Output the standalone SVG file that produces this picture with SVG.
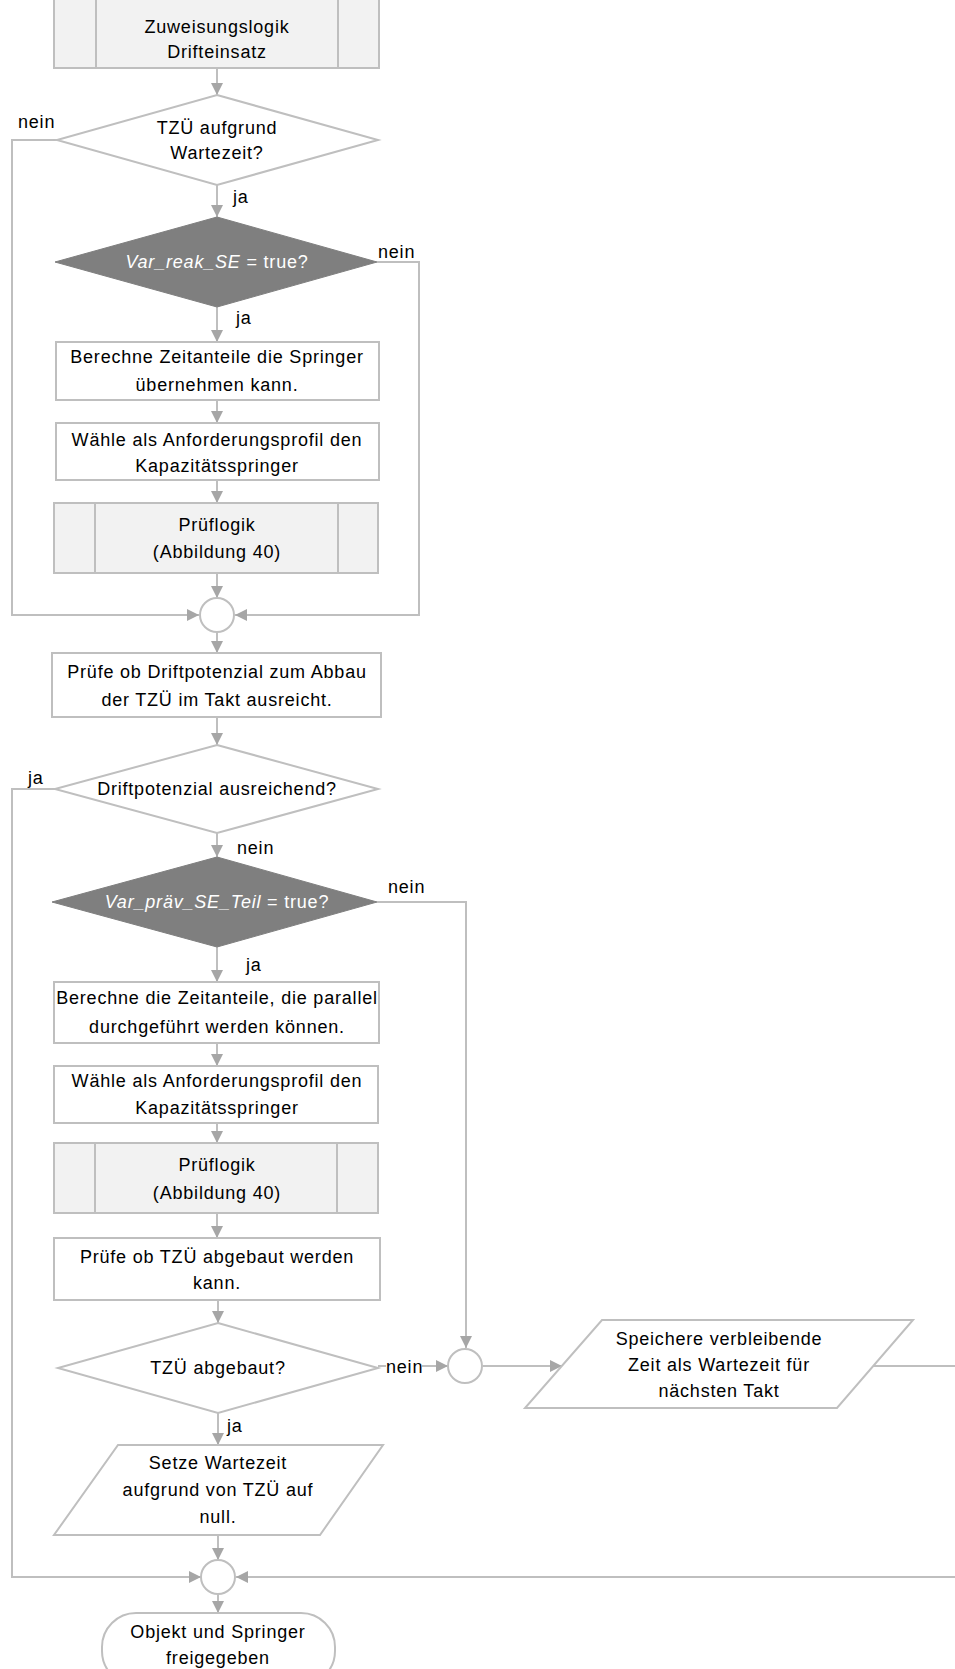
<svg xmlns="http://www.w3.org/2000/svg" width="955" height="1669" viewBox="0 0 955 1669">
<style>
text{font-family:"Liberation Sans",Arial,sans-serif;font-size:18px;letter-spacing:0.8px;fill:#000;text-anchor:middle}
text.lbl{text-anchor:start}
text.w{fill:#fff}
.it{font-style:italic}
.box{fill:#fff;stroke:#bfbfbf;stroke-width:2}
.sub{fill:#f2f2f2;stroke:#bfbfbf;stroke-width:2}
.dark{fill:#7f7f7f;stroke:#7f7f7f;stroke-width:1}
.ln{fill:none;stroke:#bfbfbf;stroke-width:2}
.arr{fill:none;stroke:#bfbfbf;stroke-width:2;marker-end:url(#ah)}
</style>
<defs>
<marker id="ah" markerUnits="userSpaceOnUse" markerWidth="13" markerHeight="12" refX="12" refY="6" orient="auto">
<path d="M0,0 L12,6 L0,12 z" fill="#a6a6a6"/>
</marker>
</defs>
<rect width="955" height="1669" fill="#fff"/>
<g id="connectors">
<line class="arr" x1="217" y1="68" x2="217" y2="95"/>
<line class="arr" x1="217" y1="185" x2="217" y2="217"/>
<line class="arr" x1="217" y1="307" x2="217" y2="342"/>
<line class="arr" x1="217" y1="400" x2="217" y2="423"/>
<line class="arr" x1="217" y1="480" x2="217" y2="503"/>
<line class="arr" x1="217" y1="573" x2="217" y2="598"/>
<polyline class="arr" points="57,140 12,140 12,615 199,615"/>
<polyline class="arr" points="377,262 419,262 419,615 235,615"/>
<line class="arr" x1="217" y1="632" x2="217" y2="653"/>
<line class="arr" x1="217" y1="717" x2="217" y2="745"/>
<line class="arr" x1="217" y1="833" x2="217" y2="857"/>
<line class="arr" x1="217" y1="947" x2="217" y2="982"/>
<line class="arr" x1="217" y1="1043" x2="217" y2="1066"/>
<line class="arr" x1="217" y1="1123" x2="217" y2="1143"/>
<line class="arr" x1="217" y1="1213" x2="217" y2="1238"/>
<line class="arr" x1="218" y1="1300" x2="218" y2="1323"/>
<polyline class="arr" points="377,902 466,902 466,1348"/>
<line class="arr" x1="378" y1="1366" x2="448" y2="1366"/>
<line class="arr" x1="483" y1="1366" x2="562" y2="1366"/>
<line class="ln" x1="873" y1="1366" x2="960" y2="1366"/>
<line class="arr" x1="218" y1="1413" x2="218" y2="1445"/>
<line class="arr" x1="218" y1="1535" x2="218" y2="1560"/>
<polyline class="arr" points="55,789 12,789 12,1577 201,1577"/>
<line class="arr" x1="960" y1="1577" x2="236" y2="1577"/>
<line class="arr" x1="218" y1="1594" x2="218" y2="1613"/>
</g>
<g id="sub1">
<rect class="sub" x="54" y="-5" width="325" height="73"/>
<line class="ln" x1="96" y1="-5" x2="96" y2="68"/>
<line class="ln" x1="338" y1="-5" x2="338" y2="68"/>
<text x="217" y="33">Zuweisungslogik</text>
<text x="217" y="58">Drifteinsatz</text>
</g>
<g id="dec1">
<polygon class="box" points="217,95 378,140 217,185 57,140"/>
<text x="217" y="134">TZÜ aufgrund</text>
<text x="217" y="159">Wartezeit?</text>
<text class="lbl" x="18" y="128">nein</text>
<text class="lbl" x="233" y="203">ja</text>
</g>
<g id="dec2">
<polygon class="dark" points="217,217 377,262 217,307 55,262"/>
<text class="w" x="217" y="268"><tspan class="it">Var_reak_SE</tspan> = true?</text>
<text class="lbl" x="378" y="258">nein</text>
<text class="lbl" x="236" y="324">ja</text>
</g>
<g id="box1">
<rect class="box" x="56" y="342" width="323" height="58"/>
<text x="217" y="363">Berechne Zeitanteile die Springer</text>
<text x="217" y="391">übernehmen kann.</text>
</g>
<g id="box2">
<rect class="box" x="56" y="423" width="323" height="57"/>
<text x="217" y="446">Wähle als Anforderungsprofil den</text>
<text x="217" y="472">Kapazitätsspringer</text>
</g>
<g id="sub2">
<rect class="sub" x="54" y="503" width="324" height="70"/>
<line class="ln" x1="95" y1="503" x2="95" y2="573"/>
<line class="ln" x1="338" y1="503" x2="338" y2="573"/>
<text x="217" y="531">Prüflogik</text>
<text x="217" y="558">(Abbildung 40)</text>
</g>
<g id="merge1">
<circle class="box" cx="217" cy="615" r="17"/>
</g>
<g id="box3">
<rect class="box" x="52" y="653" width="329" height="64"/>
<text x="217" y="678">Prüfe ob Driftpotenzial zum Abbau</text>
<text x="217" y="706">der TZÜ im Takt ausreicht.</text>
</g>
<g id="dec3">
<polygon class="box" points="217,745 378,789 217,833 55,789"/>
<text x="217" y="795">Driftpotenzial ausreichend?</text>
<text class="lbl" x="28" y="784">ja</text>
<text class="lbl" x="237" y="854">nein</text>
</g>
<g id="dec4">
<polygon class="dark" points="217,857 377,902 217,947 52,902"/>
<text class="w" x="217" y="908"><tspan class="it">Var_präv_SE_Teil</tspan> = true?</text>
<text class="lbl" x="388" y="893">nein</text>
<text class="lbl" x="246" y="971">ja</text>
</g>
<g id="box4">
<rect class="box" x="54" y="982" width="325" height="61"/>
<text x="217" y="1004">Berechne die Zeitanteile, die parallel</text>
<text x="217" y="1033">durchgeführt werden können.</text>
</g>
<g id="box5">
<rect class="box" x="54" y="1066" width="324" height="57"/>
<text x="217" y="1087">Wähle als Anforderungsprofil den</text>
<text x="217" y="1114">Kapazitätsspringer</text>
</g>
<g id="sub3">
<rect class="sub" x="54" y="1143" width="324" height="70"/>
<line class="ln" x1="95" y1="1143" x2="95" y2="1213"/>
<line class="ln" x1="337" y1="1143" x2="337" y2="1213"/>
<text x="217" y="1171">Prüflogik</text>
<text x="217" y="1199">(Abbildung 40)</text>
</g>
<g id="box6">
<rect class="box" x="54" y="1238" width="326" height="62"/>
<text x="217" y="1263">Prüfe ob TZÜ abgebaut werden</text>
<text x="217" y="1289">kann.</text>
</g>
<g id="dec5">
<polygon class="box" points="218,1323 378,1368 218,1413 58,1368"/>
<text x="218" y="1374">TZÜ abgebaut?</text>
<rect x="386" y="1358" width="36" height="17" fill="#fff"/>
<text class="lbl" x="386" y="1373">nein</text>
<text class="lbl" x="227" y="1432">ja</text>
</g>
<g id="merge2">
<circle class="box" cx="465" cy="1366" r="17"/>
</g>
<g id="io1">
<polygon class="box" points="602,1320 913,1320 837,1408 525,1408"/>
<text x="719" y="1345">Speichere verbleibende</text>
<text x="719" y="1371">Zeit als Wartezeit für</text>
<text x="719" y="1397">nächsten Takt</text>
</g>
<g id="io2">
<polygon class="box" points="118,1445 383,1445 320,1535 54,1535"/>
<text x="218" y="1469">Setze Wartezeit</text>
<text x="218" y="1496">aufgrund von TZÜ auf</text>
<text x="218" y="1523">null.</text>
</g>
<g id="merge3">
<circle class="box" cx="218" cy="1577" r="17"/>
</g>
<g id="end">
<rect class="box" x="102" y="1613" width="233" height="72" rx="34" ry="34"/>
<text x="218" y="1638">Objekt und Springer</text>
<text x="218" y="1664">freigegeben</text>
</g>
</svg>
